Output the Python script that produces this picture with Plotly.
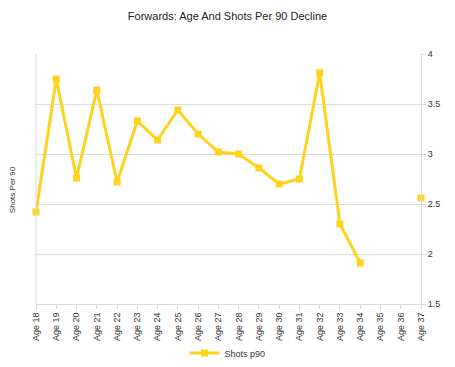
import plotly.graph_objects as go

ages = ["Age 18", "Age 19", "Age 20", "Age 21", "Age 22", "Age 23", "Age 24", "Age 25",
        "Age 26", "Age 27", "Age 28", "Age 29", "Age 30", "Age 31", "Age 32", "Age 33",
        "Age 34", "Age 35", "Age 36", "Age 37"]
shots_p90 = [2.42, 3.75, 2.76, 3.64, 2.72, 3.33, 3.14, 3.44, 3.20, 3.02, 3.00, 2.86,
             2.70, 2.75, 3.81, 2.30, 1.91, None, None, 2.56]
y_ticks = [1.5, 2, 2.5, 3, 3.5, 4]

gold = "#FFD21F"
fig = go.Figure()
fig.add_trace(go.Scatter(
    x=ages, y=shots_p90, mode="lines+markers", name="Shots p90",
    line=dict(color=gold, width=3),
    marker=dict(symbol="square", size=7, color=gold),
    connectgaps=False, cliponaxis=False,
))

fig.update_layout(
    width=455, height=367,
    margin=dict(l=36, r=34, t=54, b=63),
    paper_bgcolor="white", plot_bgcolor="white",
    font=dict(family="Liberation Sans, Arial, sans-serif", color="#333333", size=9),
    title=dict(text="Forwards: Age And Shots Per 90 Decline", x=0.5, xanchor="center",
               y=0.955, yanchor="middle", font=dict(size=11, color="#222222")),
    showlegend=True,
    legend=dict(orientation="h", x=0.5, xanchor="center", xref="container",
                y=0.038, yanchor="middle", yref="container",
                bgcolor="rgba(0,0,0,0)",
                font=dict(size=9, color="#333333")),
    xaxis=dict(type="category", tickangle=-90, showgrid=False, automargin=False,
               showline=True, linecolor="#d9d9d9", linewidth=1, mirror=False,
               ticks="outside", tickcolor="#d9d9d9", ticklen=4,
               range=[0, 19], tickfont=dict(size=9)),
    yaxis=dict(side="right", range=[1.5, 4], tickvals=y_ticks, automargin=False,
               ticktext=[str(v) for v in y_ticks],
               showgrid=True, gridcolor="#dcdcdc", gridwidth=1,
               showline=True, linecolor="#d9d9d9", linewidth=1,
               ticks="outside", tickcolor="#d9d9d9", ticklen=4,
               zeroline=False, tickfont=dict(size=9)),
)
fig.add_shape(type="line", xref="paper", yref="paper", x0=0, x1=0, y0=0, y1=1,
              line=dict(color="#d9d9d9", width=1))
fig.add_annotation(text="Shots Per 90", xref="paper", yref="paper", x=-0.062, y=0.456,
                   textangle=-90, showarrow=False, font=dict(size=8, color="#333333"),
                   xanchor="center", yanchor="middle")

fig.write_html("out.html")
